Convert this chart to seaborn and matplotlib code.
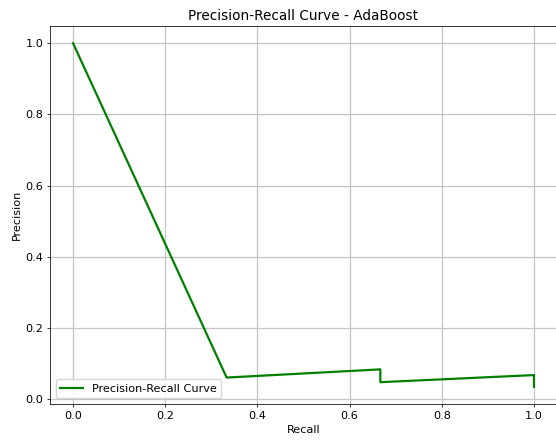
import matplotlib
matplotlib.use("Agg")
import matplotlib.pyplot as plt
import seaborn as sns
import pandas as pd

# Data (sklearn precision_recall_curve order: recall decreasing)
recall = [1.0, 1.0, 0.6667, 0.6667, 0.3333, 0.0]
precision = [0.035, 0.068, 0.048, 0.084, 0.061, 1.0]
title = "Precision-Recall Curve - AdaBoost"
series_label = "Precision-Recall Curve"

df = pd.DataFrame({"Recall": recall, "Precision": precision})

s = 0.695
f = 0.815
plt.rcParams.update({
    "font.family": ["DejaVu Sans"],
    "font.size": 10 * f,
    "axes.titlesize": 12 * f,
    "axes.labelsize": 10 * f,
    "xtick.labelsize": 10 * f,
    "ytick.labelsize": 10 * f,
    "legend.fontsize": 10 * f,
    "axes.linewidth": 0.8 * s,
    "xtick.major.width": 0.8 * s,
    "ytick.major.width": 0.8 * s,
    "xtick.major.size": 3.5 * s,
    "ytick.major.size": 3.5 * s,
    "xtick.major.pad": 3.5 * s,
    "ytick.major.pad": 3.5 * s,
    "grid.linewidth": 0.9,
    "grid.color": "#c4c4c4",
    "axes.titlepad": 6 * s,
    "axes.labelpad": 4 * s,
})

W, H = 556, 442
fig = plt.figure(figsize=(W / 100, H / 100), dpi=100)
ax = fig.add_axes([50 / W, (H - 404) / H, 507 / W, (404 - 26) / H])

sns.lineplot(data=df, x="Recall", y="Precision", sort=False, estimator=None,
             color="green", linewidth=1.6, label=series_label, ax=ax)
ax.set_title(title)
ax.set_xlabel("Recall")
ax.set_ylabel("Precision")
ax.grid(True)
ax.legend(loc="lower left")

fig.savefig("out.png", dpi=100)
